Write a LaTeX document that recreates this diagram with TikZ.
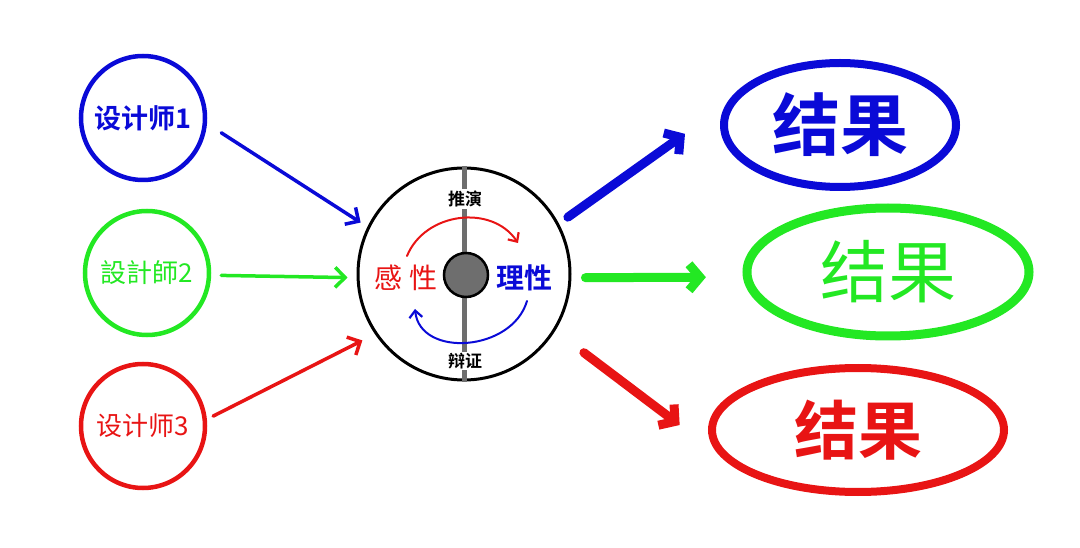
\documentclass[tikz,border=0pt]{standalone}
\usepackage{fontspec}
\usetikzlibrary{arrows.meta,shapes.geometric}
\newfontfamily\cjk[BoldFont={* Bold}]{Noto Sans CJK SC}
\definecolor{cblue}{RGB}{10,10,215}
\definecolor{cgreen}{RGB}{35,232,35}
\definecolor{cred}{RGB}{232,20,20}
\definecolor{cgray}{RGB}{110,110,110}
\tikzset{
  designer/.style={circle,draw,line width=4.5pt,minimum size=124pt,inner sep=0pt,font=\cjk\fontsize{26}{26}\selectfont},
  result/.style={ellipse,draw,line width=8pt,inner sep=0pt,font=\cjk\bfseries\fontsize{68}{68}\selectfont},
  thinarr/.style={line width=3.5pt,-{Straight Barb[length=10pt,width=20pt,line width=3.5pt]},line cap=round},
  thickarr/.style={line width=9pt,-{Straight Barb[length=11pt,width=26pt,line width=9pt]},line cap=round},
  arcarr/.style={line width=2pt,-{Straight Barb[length=7pt,width=13pt,line width=2.2pt]},line cap=round},
  hublabel/.style={fill=white,inner sep=1.5pt,font=\cjk\bfseries\fontsize{17}{17}\selectfont},
}
\begin{document}
\begin{tikzpicture}[x=1pt,y=-1pt]
\useasboundingbox (0,0) rectangle (1080,548);
% designers
\node[designer,cblue,font=\cjk\bfseries\fontsize{27}{27}\selectfont] (d1) at (143,118) {设计师1};
\node[designer,cgreen] (d2) at (147,273) {設計師2};
\node[designer,cred] (d3) at (143,426) {设计师3};
% hub
\node[circle,draw,line width=3pt,minimum size=212pt,inner sep=0pt] (hub) at (464,274) {};
\draw[cgray,line width=5pt] (hub.north) -- (hub.south);
\node[circle,draw,line width=2.5pt,fill=cgray,minimum size=44pt,inner sep=0pt] (core) at (466,275) {};
\node[hublabel] (tuiyan) at (465,199) {推演};
\node[hublabel] (bianzheng) at (465,361) {辩证};
\node[text=cred,font=\cjk\fontsize{28}{28}\selectfont] (ganxing) at (406,278) {感\hspace{7pt}性};
\node[text=cblue,font=\cjk\bfseries\fontsize{28}{28}\selectfont] (lixing) at (524,278) {理性};
\coordinate (ra) at (407,256);
\coordinate (rb) at (518,243);
\coordinate (ba) at (527,301);
\coordinate (bb) at (415,309);
\draw[arcarr,cred] (ra) .. controls (425,212) and (492,204) .. (rb);
\draw[arcarr,cblue] (ba) .. controls (512,352) and (420,358) .. (bb);
% results
\node[result,cblue,minimum width=232pt,minimum height=124pt] (r1) at (840,125) {结果};
\node[result,cgreen,line width=9pt,font=\cjk\fontsize{68}{68}\selectfont,minimum width=282pt,minimum height=128pt] (r2) at (888,272) {结果};
\node[result,cred,minimum width=292pt,minimum height=124pt,font=\cjk\bfseries\fontsize{64}{64}\selectfont] (r3) at (858,430) {结果};
% inputs
\draw[thinarr,cblue,shorten <=17pt,shorten >=8pt] (d1.-5) -- (hub.154);
\draw[thinarr,cgreen,shorten <=10pt,shorten >=9pt] (d2.-2) -- (hub.182);
\draw[thinarr,cred,shorten <=7pt,shorten >=14pt] (d3.6) -- (hub.214);
% outputs
\draw[thickarr,cblue,shorten <=11pt,shorten >=50pt] (hub.28) -- (r1.170);
\draw[thickarr,cgreen,shorten <=14pt,shorten >=37pt] (hub.-2) -- (r2.182);
\draw[thickarr,cred,shorten <=36pt,shorten >=49pt] (hub.-32) -- (r3.190);
\end{tikzpicture}
\end{document}
